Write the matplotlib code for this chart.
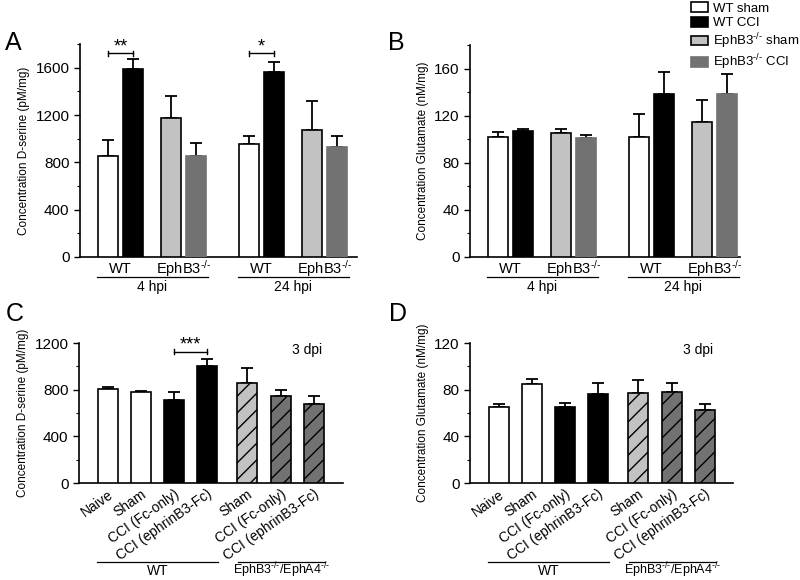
import numpy as np
import matplotlib
matplotlib.use('Agg')
from matplotlib import pyplot as plt
from matplotlib.patches import Patch

plt.rcParams['font.family'] = ['Liberation Sans', 'DejaVu Sans']
plt.rcParams['mathtext.fontset'] = 'custom'
plt.rcParams['mathtext.rm'] = 'Liberation Sans'
plt.rcParams['mathtext.it'] = 'Liberation Sans:italic'
plt.rcParams['hatch.linewidth'] = 1.0

#=================================================
#DATA
#=================================================
KO = r'$^{\text{-/-}}$'
legend_labels = ['WT sham', 'WT CCI', 'EphB3' + KO + ' sham', 'EphB3' + KO + ' CCI']
time_labels = ['4 hpi', '24 hpi']
geno_labels = ['WT', 'EphB3' + KO]

dser_4hpi = [850, 1585, 1175, 850]
dser_4hpi_err = [140, 90, 183, 113]
dser_24hpi = [955, 1562, 1076, 930]
dser_24hpi_err = [65, 85, 240, 90]

glu_4hpi = [102, 107, 105, 101]
glu_4hpi_err = [4, 2, 4, 3]
glu_24hpi = [102, 138, 115, 138]
glu_24hpi_err = [19, 19, 18, 17]

dpi_labels = ['Naive', 'Sham', 'CCI (Fc-only)', 'CCI (ephrinB3-Fc)',
              'Sham', 'CCI (Fc-only)', 'CCI (ephrinB3-Fc)']
dpi_groups = ['WT', 'EphB3' + KO + '/EphA4' + KO]
dser_3dpi = [810, 780, 710, 1005, 855, 748, 680]
dser_3dpi_err = [9, 10, 70, 62, 130, 52, 70]
glu_3dpi = [65, 85, 65, 76, 77.5, 78, 63]
glu_3dpi_err = [2.5, 4.5, 3.5, 10, 10.5, 7.5, 4.5]

#=================================================
#STYLE
#=================================================
LGRAY = '#c2c2c2'
DGRAY = '#727272'
hpi_face = ['white', 'black', LGRAY, DGRAY]
hpi_edge = ['black', 'black', 'black', DGRAY]
hpi_offsets = [0, 25, 63, 88]
hpi_group_start = [28, 169]

dpi_face = ['white', 'white', 'black', 'black', LGRAY, DGRAY, DGRAY]
dpi_hatch = [None, None, None, None, '//', '//', '//']
dpi_x = [29, 62, 95, 128, 168, 202, 235]

BAR_W = 20


def style_axis(ax, ymax, major, minor):
    ax.spines['top'].set_visible(False)
    ax.spines['right'].set_visible(False)
    ax.spines['left'].set_linewidth(1.2)
    ax.spines['bottom'].set_linewidth(1.2)
    ax.set_ylim(0, ymax)
    ax.set_yticks(np.arange(0, ymax + 1, major))
    ax.set_yticks(np.arange(0, ymax + 1, minor), minor=True)
    ax.tick_params(axis='y', which='major', length=4, width=1.0, labelsize=11)
    ax.tick_params(axis='y', which='minor', length=2, width=0.8)


def bars(ax, x, h, err, face, edge, hatch=None):
    for i in range(len(x)):
        ax.bar(x[i], h[i], width=BAR_W, color=face[i], edgecolor=edge[i],
               linewidth=1.2, hatch=None if hatch is None else hatch[i], zorder=3)
    ax.errorbar(x, h, yerr=[np.zeros(len(h)), err], fmt='none', ecolor='black',
                elinewidth=1.3, capsize=4, capthick=1.3, zorder=2)


def bracket(ax, x1, x2, y, stars, h):
    ax.plot([x1, x2], [y, y], color='black', lw=1.0, clip_on=False)
    ax.plot([x1, x1], [y - h, y + h], color='black', lw=1.0, clip_on=False)
    ax.plot([x2, x2], [y - h, y + h], color='black', lw=1.0, clip_on=False)
    ax.text((x1 + x2) / 2, y - h * 0.6, stars, ha='center', va='bottom', fontsize=13)


def hpi_panel(ax, vals, errs, xmax, ymax, major, minor, ylabel):
    style_axis(ax, ymax, major, minor)
    ax.set_xlim(0, xmax)
    ax.set_xticks([])
    tr = ax.get_xaxis_transform()
    for g in range(2):
        x = [hpi_group_start[g] + o for o in hpi_offsets]
        bars(ax, x, vals[g], errs[g], hpi_face, hpi_edge)
        ax.text((x[0] + x[1]) / 2, -0.055, geno_labels[0], transform=tr,
                ha='center', va='center', fontsize=10.5)
        ax.text((x[2] + x[3]) / 2, -0.055, geno_labels[1], transform=tr,
                ha='center', va='center', fontsize=10.5)
        ax.plot([x[0] - 11, x[3] + 12], [-0.094, -0.094], color='black', lw=0.9,
                transform=tr, clip_on=False)
        ax.text((x[0] + x[3]) / 2, -0.14, time_labels[g], transform=tr,
                ha='center', va='center', fontsize=10)
    ax.set_ylabel(ylabel, fontsize=8.5, labelpad=4)


def dpi_panel(ax, vals, errs, xmax, ymax, major, minor, ylabel):
    style_axis(ax, ymax, major, minor)
    ax.set_xlim(0, xmax)
    bars(ax, dpi_x, vals, errs, dpi_face, ['black'] * 7, dpi_hatch)
    ax.set_xticks(dpi_x)
    ax.set_xticklabels(dpi_labels, rotation=35, ha='right', rotation_mode='anchor',
                       fontsize=10)
    ax.tick_params(axis='x', length=0, pad=3)
    tr = ax.get_xaxis_transform()
    spans = [(dpi_x[0] - 11, dpi_x[3] + 11), (dpi_x[4] - 9, dpi_x[6] + 11)]
    for (a, b), lab in zip(spans, dpi_groups):
        ax.plot([a, b], [-0.564, -0.564], color='black', lw=0.9,
                transform=tr, clip_on=False)
        ax.text((a + b) / 2, -0.625, lab, transform=tr, ha='center', va='center',
                fontsize=10 if lab == 'WT' else 9)
    ax.text(228, ymax * 0.95, '3 dpi', ha='center', va='center', fontsize=10)
    ax.set_ylabel(ylabel, fontsize=8.5, labelpad=4)


#=================================================
#FIGURE
#=================================================
fig = plt.figure(figsize=(8, 5.8), dpi=100)

axA = fig.add_axes([0.1, 0.5569, 0.34625, 0.3672])
hpi_panel(axA, [dser_4hpi, dser_24hpi], [dser_4hpi_err, dser_24hpi_err],
          277, 1800, 400, 200, 'Concentration D-serine (pM/mg)')
bracket(axA, 28, 53, 1720, '**', 25)
bracket(axA, 169, 194, 1720, '*', 25)

axB = fig.add_axes([0.5875, 0.5569, 0.3375, 0.3655])
hpi_panel(axB, [glu_4hpi, glu_24hpi], [glu_4hpi_err, glu_24hpi_err],
          270, 180, 40, 20, 'Concentration Glutamate (nM/mg)')

axC = fig.add_axes([0.09875, 0.1672, 0.33, 0.2414])
dpi_panel(axC, dser_3dpi, dser_3dpi_err, 264, 1200, 400, 200,
          'Concentration D-serine (pM/mg)')
bracket(axC, 95, 128, 1127, '***', 22)

axD = fig.add_axes([0.5875, 0.1672, 0.32875, 0.2414])
dpi_panel(axD, glu_3dpi, glu_3dpi_err, 263, 120, 40, 20,
          'Concentration Glutamate (nM/mg)')

for lab, (x, y) in zip(['A', 'B', 'C', 'D'],
                       [(13, 43), (396, 43), (15, 314), (398, 314)]):
    fig.text(x / 800, 1 - y / 580, lab, ha='center', va='center', fontsize=18)

handles = [Patch(facecolor=f, edgecolor=e, linewidth=1.2) for f, e in zip(hpi_face, hpi_edge)]
fig.legend(handles, legend_labels, loc='upper left', bbox_to_anchor=(690 / 800, 0.998),
           frameon=False, fontsize=9.5, handlelength=1.3, handleheight=0.75,
           labelspacing=0.15, handletextpad=0.35, borderpad=0.1, borderaxespad=0)

fig.savefig('out.png', dpi=100)
